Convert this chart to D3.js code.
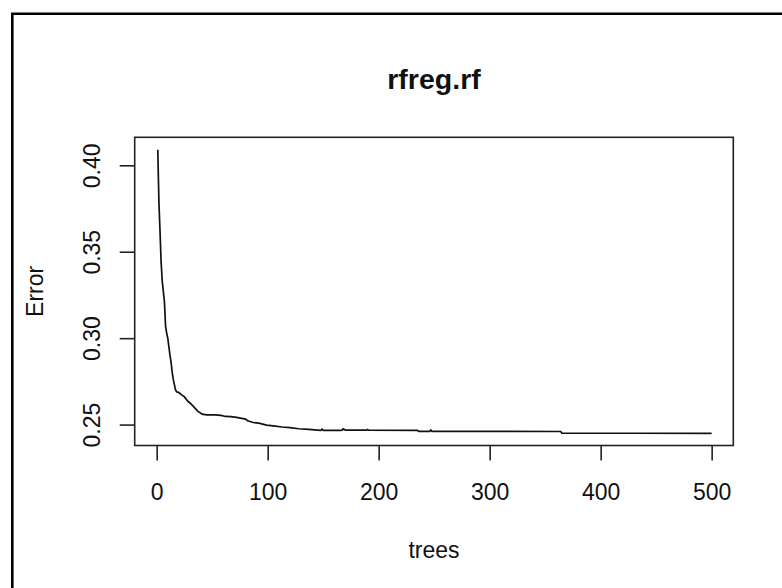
<!DOCTYPE html>
<html>
<head>
<meta charset="utf-8">
<script src="https://cdn.jsdelivr.net/npm/d3@7"></script>
<style>
  body { margin: 0; background: #fff; }
  text { font-family: "Liberation Sans", Arial, sans-serif; fill: #111; }
</style>
</head>
<body>
<div id="chart"></div>
<script>
// error curve (tree count, OOB error)
var trees = [1, 2, 3, 4, 5, 6, 7, 8, 9, 10, 11, 12, 13, 14, 15, 16, 17, 18, 20, 22, 25, 28, 30, 33, 37, 41, 45, 52, 58, 62, 67, 72, 80, 82, 87, 92, 99, 105, 113, 120, 128, 137, 145, 148, 149, 150, 165, 167, 168, 170, 189, 190, 191, 235, 236, 246, 247, 248, 300, 364, 365, 430, 500];
var errors = [0.409, 0.379, 0.362, 0.344, 0.333, 0.327, 0.321, 0.307, 0.303, 0.300, 0.295, 0.290, 0.286, 0.280, 0.276, 0.273, 0.270, 0.269, 0.2685, 0.2675, 0.266, 0.2635, 0.2625, 0.2605, 0.2578, 0.2560, 0.2556, 0.2556, 0.2553, 0.2547, 0.2546, 0.2542, 0.2532, 0.2522, 0.2512, 0.2508, 0.2497, 0.2492, 0.2486, 0.2482, 0.2476, 0.2472, 0.2468, 0.2466, 0.2474, 0.2466, 0.2466, 0.2467, 0.2475, 0.2468, 0.2468, 0.2472, 0.2468, 0.2467, 0.2461, 0.2461, 0.2468, 0.2461, 0.2461, 0.2460, 0.2451, 0.2450, 0.2449];

var xTicks = [0, 100, 200, 300, 400, 500];
var yTicks = [0.25, 0.30, 0.35, 0.40];

var title = "rfreg.rf";
var xLabel = "trees";
var yLabel = "Error";

const width = 782;
const height = 588;
const box = {left: 134.7, right: 733.3, top: 137.3, bottom: 445.5};

const svg = d3.select("#chart")
    .append("svg")
    .attr("width", width)
    .attr("height", height);

// outer frame, only top and left are inside the picture
svg.append("path")
    .attr("d", "M12.3," + height + "V13.8H" + width)
    .attr("fill", "none")
    .attr("stroke", "#000")
    .attr("stroke-width", 2.6);

// R style 4% padding round the data
const xScale = d3.scaleLinear().domain([-19.8, 519.5]).range([box.left, box.right]);
const yScale = d3.scaleLinear().domain([0.2379, 0.4162]).range([box.bottom, box.top]);

const xAxis = svg.append("g")
    .attr("transform", "translate(0," + box.bottom + ")")
    .call(d3.axisBottom(xScale).tickValues(xTicks).tickFormat(d3.format("d")).tickSize(15).tickSizeOuter(0));
xAxis.select(".domain").remove();
xAxis.selectAll("line").attr("stroke", "#222").attr("stroke-width", 1.6);
xAxis.selectAll("text")
    .attr("y", 54)
    .attr("dy", null)
    .style("font-size", "23px")
    .attr("fill", "#111");

const yAxis = svg.append("g")
    .attr("transform", "translate(" + box.left + ",0)")
    .call(d3.axisLeft(yScale).tickValues(yTicks).tickFormat(d3.format(".2f")).tickSize(15).tickSizeOuter(0));
yAxis.select(".domain").remove();
yAxis.selectAll("line").attr("stroke", "#222").attr("stroke-width", 1.6);
yAxis.selectAll("text")
    .attr("x", null)
    .attr("dy", null)
    .attr("text-anchor", "middle")
    .attr("transform", "translate(-35,0) rotate(-90)")
    .style("font-size", "23px")
    .attr("fill", "#111");

// plot box
svg.append("rect")
    .attr("x", box.left)
    .attr("y", box.top)
    .attr("width", box.right - box.left)
    .attr("height", box.bottom - box.top)
    .attr("fill", "none")
    .attr("stroke", "#222")
    .attr("stroke-width", 1.6);

const points = trees.map(function(t, i) { return [t, errors[i]]; });

const line = d3.line()
    .x(function(d) { return xScale(d[0]); })
    .y(function(d) { return yScale(d[1]); });

svg.append("path")
    .datum(points)
    .attr("d", line)
    .attr("fill", "none")
    .attr("stroke", "#111")
    .attr("stroke-width", 1.7);

svg.append("text")
    .attr("x", (box.left + box.right) / 2)
    .attr("y", 89)
    .attr("text-anchor", "middle")
    .style("font-size", "28.5px")
    .style("font-weight", "bold")
    .text(title);

svg.append("text")
    .attr("x", (box.left + box.right) / 2)
    .attr("y", 558)
    .attr("text-anchor", "middle")
    .style("font-size", "23px")
    .text(xLabel);

svg.append("text")
    .attr("transform", "translate(43," + (box.top + box.bottom) / 2 + ") rotate(-90)")
    .attr("text-anchor", "middle")
    .style("font-size", "23px")
    .text(yLabel);
</script>
</body>
</html>
